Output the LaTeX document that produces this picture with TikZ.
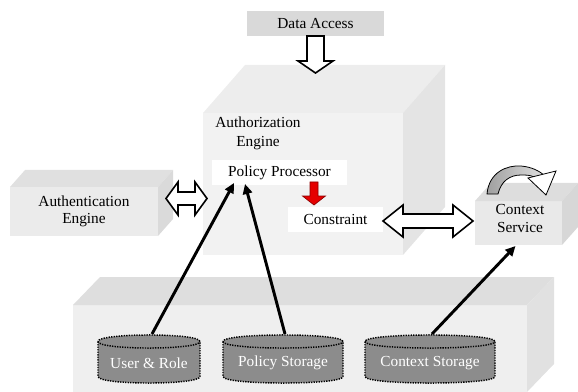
\documentclass[tikz,border=0pt]{standalone}
\usepackage{fontspec}
\setmainfont{Liberation Serif}
\usetikzlibrary{arrows.meta,calc}

\newlength\pxu
\setlength\pxu{0.75pt}

\definecolor{storefront}{HTML}{EFEFEF}
\definecolor{storetop}{HTML}{DEDEDE}
\definecolor{storeside}{HTML}{E1E1E1}
\definecolor{authzfront}{HTML}{F2F2F2}
\definecolor{authztop}{HTML}{EDEDED}
\definecolor{authzside}{HTML}{E4E4E4}
\definecolor{authnfront}{HTML}{EBEBEB}
\definecolor{authntop}{HTML}{E0E0E0}
\definecolor{authnside}{HTML}{DADADA}
\definecolor{ctxfront}{HTML}{E9E9E9}
\definecolor{ctxtop}{HTML}{DDDDDD}
\definecolor{ctxside}{HTML}{D7D7D7}
\definecolor{dagrey}{HTML}{D9D9D9}
\definecolor{dbgrey}{HTML}{8C8C8C}

% top and side faces of a box whose front face is node #1
\newcommand\boxfaces[4]{%
  \fill[#4top] (#1.north west) -- ++(#2,-#3) -- ($(#1.north east)+(#2,-#3)$) -- (#1.north east) -- cycle;
  \fill[#4side] (#1.north east) -- ++(#2,-#3) -- ($(#1.south east)+(#2,-#3)$) -- (#1.south east) -- cycle;}

% horizontal double block arrow: left tip, right tip, shaft half width, head half width, head length
\newcommand\twowayarrow[5]{%
  \draw[blockarrow] (#1) -- ($(#1)+(#5,-#4)$) -- ($(#1)+(#5,-#3)$) -- ($(#2)+(-#5,-#3)$)
    -- ($(#2)+(-#5,-#4)$) -- (#2) -- ($(#2)+(-#5,#4)$) -- ($(#2)+(-#5,#3)$)
    -- ($(#1)+(#5,#3)$) -- ($(#1)+(#5,#4)$) -- cycle;}

% downward block arrow: style, start, tip, shaft half width, head half width, head length
\newcommand\downblock[6]{%
  \draw[#1] ($(#2)+(-#4,0)$) -- ($(#3)+(-#4,-#6)$) -- ($(#3)+(-#5,-#6)$) -- (#3)
    -- ($(#3)+(#5,-#6)$) -- ($(#3)+(#4,-#6)$) -- ($(#2)+(#4,0)$) -- cycle;}

% dotted storage cylinder: name, centre x, half width, label
\newcommand\storagedb[4]{%
  \path[db] (#2-#3,341.5) -- (#2-#3,376.5) .. controls (#2-#3,385.2) and (#2+#3,385.2) .. (#2+#3,376.5)
    -- (#2+#3,341.5) .. controls (#2+#3,332.8) and (#2-#3,332.8) .. cycle;
  \draw[dbline] (#2-#3,341.5) .. controls (#2-#3,350.2) and (#2+#3,350.2) .. (#2+#3,341.5);
  \node[dbtext] (#1) at (#2,363) {#4};
  \coordinate (#1top) at (#2,334);}

\begin{document}
\begin{tikzpicture}[x=0.75pt, y=-0.75pt,
  font=\fontsize{11.5}{13}\selectfont,
  face/.style={anchor=north west, inner sep=0pt, outer sep=0pt},
  panel/.style={anchor=north west, inner sep=0pt, outer sep=0pt, align=center},
  caption/.style={inner sep=0pt, align=center},
  blockarrow/.style={draw=black, line width=1.2pt, fill=white, line join=miter},
  hotarrow/.style={draw=red!55!black, line width=0.5pt, fill=red!90!black},
  link/.style={line width=2.2pt, -{Triangle[length=7.5pt,width=7pt]}},
  db/.style={draw=black, fill=dbgrey, line width=1.1pt, dash pattern=on 1pt off 0.9pt},
  dbline/.style={draw=black, line width=1.1pt, dash pattern=on 1pt off 0.9pt},
  dbtext/.style={inner sep=0pt, text=white},
]
\useasboundingbox (0,0) rectangle (578,392);

% storage layer
\node[face, fill=storefront, minimum width=454*\pxu, minimum height=87*\pxu] (store) at (73,305) {};
\boxfaces{store}{27}{28}{store}

% authorization engine block
\node[face, fill=authzfront, minimum width=200*\pxu, minimum height=142*\pxu] (authzbox) at (203,113) {};
\boxfaces{authzbox}{42}{48}{authz}

% authentication engine block
\node[face, fill=authnfront, minimum width=148*\pxu, minimum height=49*\pxu] (authnbox) at (10,187) {};
\boxfaces{authnbox}{15}{17}{authn}

% context service block
\node[face, fill=ctxfront, minimum width=87*\pxu, minimum height=44*\pxu] (ctxbox) at (475,201) {};
\boxfaces{ctxbox}{16}{18}{ctx}

% captions and panels
\node[caption, font=\fontsize{11.5}{14.25}\selectfont] (authz) at (258,133) {Authorization\\Engine};
\node[caption] (authn) at (84,211.5) {Authentication\\Engine};
\node[caption] (ctx) at (520,218.5) {Context\\Service};
\node[panel, fill=dagrey, minimum width=137*\pxu, minimum height=25*\pxu] (da) at (247,11) {Data Access};
\node[panel, fill=white, minimum width=135*\pxu, minimum height=25*\pxu] (pp) at (212,160) {Policy Processor};
\node[panel, fill=white, minimum width=95*\pxu, minimum height=25*\pxu] (cons) at (288,207) {Constraint};

% block arrows
\coordinate (authzin) at ($(da.south)+(0,37)$);
\downblock{blockarrow}{da.south}{authzin}{8.5}{17.5}{12}

\coordinate (ruleout) at ($(pp.south)+(34.5,-3)$);
\coordinate (rulein) at ($(cons.north)+(-21.5,-2)$);
\downblock{hotarrow}{ruleout}{rulein}{4}{11.5}{9}

\coordinate (authnport) at ($(authnbox.north east)+(8,11.5)$);
\coordinate (authzport) at ($(authzbox.west)+(4,14.5)$);
\twowayarrow{authnport}{authzport}{6.5}{16.5}{12}

\coordinate (consport) at ($(cons.east)+(0,1.5)$);
\coordinate (ctxport) at ($(ctxbox.west)+(-2,-2)$);
\twowayarrow{consport}{ctxport}{7}{16}{20}

% storages
\storagedb{ur}{149}{51}{User \& Role}
\storagedb{ps}{283}{60}{Policy Storage}
\storagedb{cs}{430}{65}{Context Storage}

% data links
\draw[link] ($(urtop)+(3,0)$) -- ($(pp.south)+(-45.5,-2)$);
\draw[link] ($(pstop)+(2,0)$) -- ($(pp.south)+(-34.5,-1)$);
\draw[link] ($(cstop)+(2,0)$) -- ($(ctxbox.south)+(-3,1)$);

% context refresh loop over the service block
\shade[left color=gray!75, right color=gray!25, draw=black, line width=0.6pt]
  (487,194) .. controls (489,172) and (507,165) .. (521,166)
  .. controls (532,167) and (539,171) .. (544,175) -- (534,177)
  .. controls (530,175) and (526,175) .. (521,175)
  .. controls (510,175) and (501,181) .. (498,194) -- cycle;
\draw[fill=white, line width=0.6pt] (528,178) -- (556,171) -- (546,195) -- cycle;
\end{tikzpicture}
\end{document}
